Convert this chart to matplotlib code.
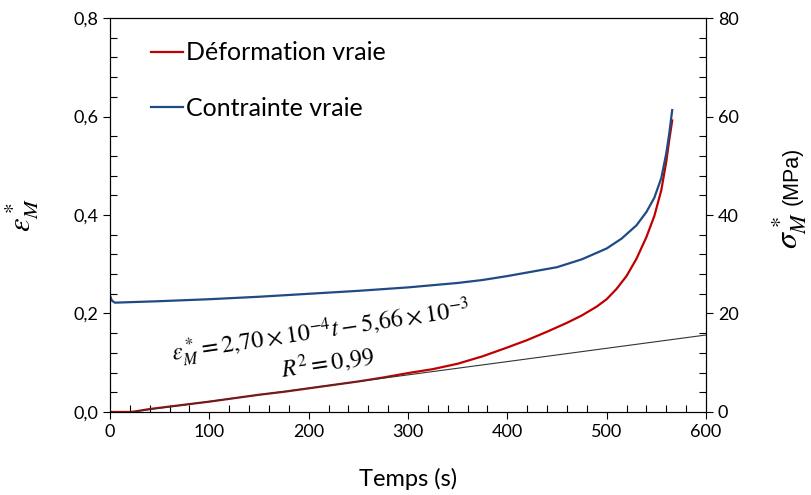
import matplotlib
matplotlib.use("Agg")
import matplotlib.pyplot as plt
from matplotlib.ticker import MultipleLocator, FuncFormatter

plt.rcParams["mathtext.fontset"] = "stix"

# --- data ---
t_strain = [0, 20, 25, 40, 60, 80, 100, 125, 150, 175, 200, 225, 250, 275, 300,
            325, 350, 375, 400, 420, 440, 460, 475, 490, 500, 510, 520, 530,
            540, 548, 555, 560, 563, 566]
strain = [0, 0, 0.001, 0.006, 0.011, 0.016, 0.021, 0.028, 0.035, 0.041, 0.048,
          0.055, 0.062, 0.070, 0.079, 0.087, 0.098, 0.113, 0.131, 0.146, 0.163,
          0.181, 0.196, 0.214, 0.229, 0.250, 0.276, 0.311, 0.355, 0.398, 0.450,
          0.508, 0.552, 0.592]

t_stress = [0, 2, 5, 20, 50, 100, 150, 200, 250, 300, 350, 375, 400, 425, 450,
            475, 500, 515, 530, 540, 548, 555, 560, 563, 566]
stress = [23.6, 22.6, 22.2, 22.3, 22.5, 22.9, 23.4, 24.0, 24.6, 25.3, 26.2, 26.8,
          27.6, 28.5, 29.4, 31.0, 33.2, 35.2, 37.9, 40.6, 43.5, 47.5, 52.5, 56.5,
          61.3]

# linear fit shown on the chart
fit_slope = 2.70e-4
fit_intercept = -5.66e-3
t_fit = [21, 600]

red = "#C00000"
blue = "#1F4A84"

fig = plt.figure(figsize=(8.11, 4.95), dpi=100)
ax = fig.add_axes([0.1356, 0.1677, 0.8705 - 0.1356, 0.9636 - 0.1677])
ax2 = ax.twinx()

l1, = ax.plot(t_strain, strain, color=red, lw=1.6, label="Déformation vraie")
ax.plot(t_fit, [fit_slope * t + fit_intercept for t in t_fit], color="#333333", lw=0.8)
l2, = ax2.plot(t_stress, stress, color=blue, lw=1.6, label="Contrainte vraie")

ax.set_xlim(0, 600)
ax.set_ylim(0, 0.8)
ax2.set_ylim(0, 80)

comma = FuncFormatter(lambda v, p: f"{v:.1f}".replace(".", ","))
ax.yaxis.set_major_formatter(comma)
ax.xaxis.set_major_locator(MultipleLocator(100))
ax.xaxis.set_minor_locator(MultipleLocator(20))
ax.yaxis.set_major_locator(MultipleLocator(0.2))
ax.yaxis.set_minor_locator(MultipleLocator(0.04))
ax2.yaxis.set_major_locator(MultipleLocator(20))
ax2.yaxis.set_minor_locator(MultipleLocator(4))

for a in (ax, ax2):
    a.tick_params(which="major", direction="out", length=5, width=0.8, labelsize=13)
    a.tick_params(which="minor", direction="in", length=5, width=0.8)
    for lab in a.get_xticklabels() + a.get_yticklabels():
        lab.set_family("Lato")
    for s in a.spines.values():
        s.set_linewidth(0.8)

ax.set_xlabel("Temps (s)", fontsize=17, family="Lato")
ax.xaxis.set_label_coords(0.5, -0.142)
ax.set_ylabel(r"$\varepsilon_M^*$", fontsize=22)
ax.yaxis.set_label_coords(-0.115, 0.5)

# right axis label: big math symbol + smaller unit, like the original
fig.text(798 / 811, 1 - 205 / 495, "(MPa)", rotation=90, rotation_mode="anchor",
         fontsize=15.5, family="Liberation Sans", ha="left", va="baseline")
fig.text(798 / 811, 1 - 212 / 495, r"$\sigma_M^*$", rotation=90, rotation_mode="anchor",
         fontsize=23, ha="right", va="baseline")

ax.text(212, 0.160, r"$\varepsilon_M^* = 2{,}70 \times 10^{-4}t - 5{,}66 \times 10^{-3}$",
        fontsize=17.5, rotation=8.5, ha="center", va="center")
ax.text(219, 0.0995, r"$R^2 = 0{,}99$", fontsize=17.5, rotation=8.5, ha="center", va="center")

ax2.legend(handles=[l1, l2], loc="upper left", bbox_to_anchor=(0.031, 0.998),
           frameon=False, handlelength=1.3, handletextpad=0.1,
           labelspacing=1.3, prop={"family": "Lato", "size": 18})

fig.savefig("out.png", dpi=100)
